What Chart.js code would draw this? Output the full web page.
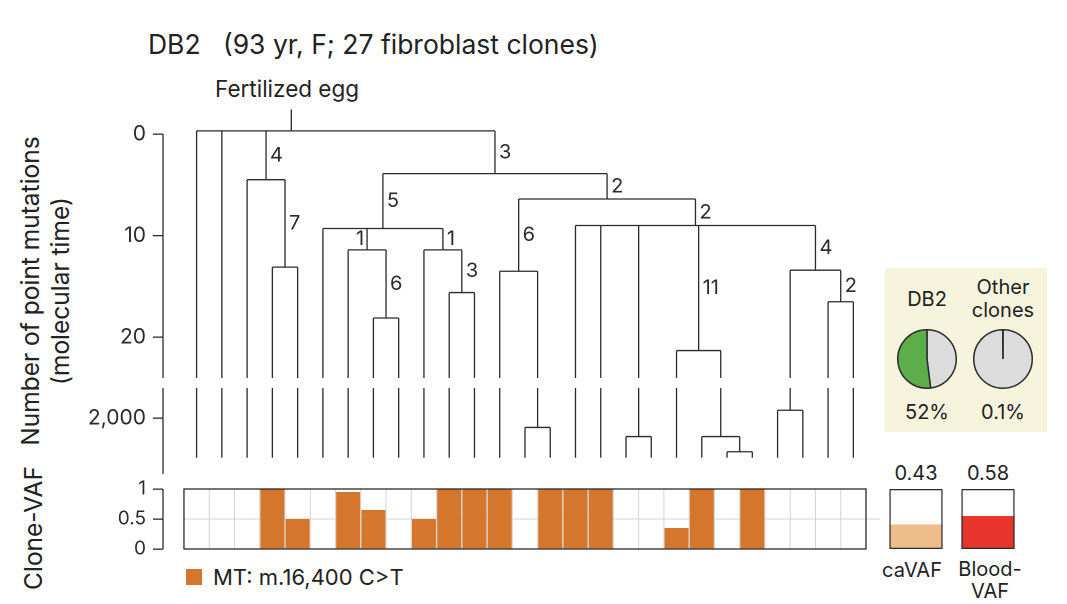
<!DOCTYPE html>
<html>
<head>
<meta charset="utf-8">
<script src="https://cdn.jsdelivr.net/npm/chart.js@4"></script>
<style>
  body { margin: 0; background: #fff; font-family: Inter, sans-serif; color: #222; }
  #wrap { position: relative; width: 1067px; height: 604px; overflow: hidden; }
  canvas, .t, .box { position: absolute; }
  .t { white-space: nowrap; }
</style>
</head>
<body>
<div id="wrap">
  <div class="t" style="left:148px;top:28px;font-size:26.5px;">DB2&nbsp;&nbsp;&nbsp;(93 yr, F; 27 fibroblast clones)</div>
  <div class="t" style="left:215px;top:75px;font-size:22.5px;">Fertilized egg</div>
  <div class="t" style="left:-150px;top:261px;width:390px;height:60px;font-size:24.5px;line-height:30px;text-align:center;transform:rotate(-90deg);">Number of point mutations<br>(molecular time)</div>
  <div class="t" style="left:-37px;top:513px;width:140px;height:30px;font-size:24.5px;text-align:center;transform:rotate(-90deg);">Clone-VAF</div>

  <div class="box" style="left:885px;top:268px;width:162px;height:164px;background:#f7f4dd;"></div>
  <div class="t" style="left:897px;top:287px;font-size:20px;width:60px;text-align:center;">DB2</div>
  <div class="t" style="left:958px;top:276px;font-size:20px;width:90px;text-align:center;line-height:23px;">Other<br>clones</div>
  <div class="t" style="left:897px;top:400px;font-size:20px;width:60px;text-align:center;">52%</div>
  <div class="t" style="left:968px;top:400px;font-size:20px;width:70px;text-align:center;">0.1%</div>

  <div class="t" style="left:886px;top:461px;font-size:20px;width:60px;text-align:center;">0.43</div>
  <div class="t" style="left:958px;top:461px;font-size:20px;width:60px;text-align:center;">0.58</div>
  <div class="t" style="left:872px;top:558px;font-size:20px;width:80px;text-align:center;">caVAF</div>
  <div class="t" style="left:950px;top:558px;font-size:20px;width:80px;text-align:center;line-height:22px;">Blood-<br>VAF</div>

  <div class="box" style="left:186px;top:569px;width:16px;height:16px;background:#d4762c;"></div>
  <div class="t" style="left:213px;top:564px;font-size:22px;">MT: m.16,400 C&gt;T</div>

  <canvas id="up" style="left:0;top:107px;width:870px;height:271px;"></canvas>
  <canvas id="low" style="left:0;top:388px;width:870px;height:86px;"></canvas>
  <canvas id="vaf" style="left:0;top:480px;width:880px;height:78px;"></canvas>
  <canvas id="small" style="left:880px;top:480px;width:144px;height:78px;"></canvas>
  <canvas id="pie1" style="left:895px;top:327px;width:64px;height:64px;"></canvas>
  <canvas id="pie2" style="left:971px;top:327px;width:64px;height:64px;"></canvas>
</div>
<script>
// tree of the 27 clones: internal nodes, their parent, height (mutations, or lower-panel units) and branch label
const nodeName   = ['root','A','A2','B','C','C1','C1b','C2','C2b','D','D1','L1','D2','L2','E','L3','L4','F','L5','G'];
const nodeParent = [null,'root','A','root','B','C','C1','C','C2','B','D','D1','D','D2','D2','E','L3','D2','F','F'];
const nodeHeight = [-0.3, 4.5, 13.1, 3.9, 9.3, 11.4, 18.1, 11.4, 15.6, 6.4, 13.5, 1991, 9.0, 1982, 21.3, 1982, 1967, 13.4, 2008, 16.5];
const nodePanel  = ['up','up','up','up','up','up','up','up','up','up','up','low','up','low','up','low','low','up','low','up'];
const nodeLabel  = ['','4','7','3','5','1','6','1','3','2','6','','2','','11','','','4','','2'];
const labelLeft  = ['C1'];
const leafParent = ['root','root','A','A2','A2','C','C1','C1b','C1b','C2','C2b','C2b','D1','L1','L1',
                    'D2','D2','L2','L2','E','L3','L4','L4','L5','L5','G','G'];
const rootStemTop = -2.4;
const rootStemX = 3.75;

const upTicks = [0, 10, 20];
const upBottom = 24;
const lowTicks = [2000];
const lowTop = 2030, lowBottom = 1945, leafEnd = 1961;

// clone-VAF for m.16,400 C>T
const cloneVAF = [0,0,0,1,0.5,0,0.95,0.65,0,0.5,1,1,1,0,1,1,1,0,0,0.35,1,0,1,0,0,0,0];
const vafTicks = [0, 0.5, 1];
const bulkNames = ['caVAF', 'Blood-VAF'];
const bulkVAF = [0.43, 0.58];
const bulkShown = [0.41, 0.55];

const pieDB2 = [48, 52];
const pieOther = [99.9, 0.1];

const INK = '#2a2a2a';
const FONT = 'Inter, sans-serif';
const AXIS_X = 163, PX_PER_LEAF = 25.26;
const X_MIN = -1.33;
const xMaxFor = w => X_MIN + (w - AXIS_X) / PX_PER_LEAF;

// build nodes
const nodes = {};
nodeName.forEach((n, i) => nodes[n] = { name: n, parent: nodeParent[i], h: nodeHeight[i], panel: nodePanel[i], label: nodeLabel[i], kids: [] });
leafParent.forEach((p, i) => { const n = 'l' + i; nodes[n] = { name: n, parent: p, h: leafEnd, panel: 'low', label: '', kids: [], x: i }; });
Object.values(nodes).forEach(n => { if (n.parent) nodes[n.parent].kids.push(n); });
function posX(n) {
  if (n.x !== undefined) return n.x;
  const xs = n.kids.map(posX);
  n.x = (Math.min(...xs) + Math.max(...xs)) / 2;
  return n.x;
}
posX(nodes.root);

const upSegs = [], lowSegs = [];
Object.values(nodes).forEach(n => {
  if (n.kids.length) {
    const xs = n.kids.map(k => k.x);
    const seg = [{x: Math.min(...xs), y: n.h}, {x: Math.max(...xs), y: n.h}];
    (n.panel === 'up' ? upSegs : lowSegs).push(seg);
  }
  if (!n.parent) {
    upSegs.push([{x: rootStemX, y: rootStemTop}, {x: rootStemX, y: n.h}]);
    return;
  }
  const p = nodes[n.parent];
  if (p.panel === 'up' && n.panel === 'up') upSegs.push([{x: n.x, y: p.h}, {x: n.x, y: n.h}]);
  else if (p.panel === 'up') {
    upSegs.push([{x: n.x, y: p.h}, {x: n.x, y: upBottom}]);
    lowSegs.push([{x: n.x, y: lowTop}, {x: n.x, y: n.h}]);
  } else lowSegs.push([{x: n.x, y: p.h}, {x: n.x, y: n.h}]);
});

function segDatasets(segs) {
  return segs.map(s => ({ data: s, showLine: true, borderColor: INK, borderWidth: 1.3, pointRadius: 0, fill: false }));
}

function yAxis(min, max, ticks, fmt, size) {
  return {
    min: min, max: max,
    afterBuildTicks: s => { s.ticks = ticks.map(v => ({value: v})); },
    afterFit: s => { s.width = AXIS_X; s.paddingTop = 0; s.paddingBottom = 0; },
    border: { display: false },
    grid: { drawOnChartArea: false, tickLength: 10, color: INK, lineWidth: 1.3 },
    ticks: { color: INK, font: { family: FONT, size: size }, padding: 7, callback: fmt }
  };
}

// axis line drawn only over [from,to]
function axisLine(from, to) {
  return {
    id: 'axisLine',
    afterDraw(c) {
      const y = c.scales.y, ctx = c.ctx;
      ctx.save();
      ctx.strokeStyle = INK; ctx.lineWidth = 1.3;
      ctx.beginPath();
      ctx.moveTo(c.chartArea.left, y.getPixelForValue(from));
      ctx.lineTo(c.chartArea.left, y.getPixelForValue(to));
      ctx.stroke();
      ctx.restore();
    }
  };
}

const branchLabels = {
  id: 'branchLabels',
  afterDraw(c) {
    const ctx = c.ctx, xs = c.scales.x, ys = c.scales.y;
    ctx.save();
    ctx.fillStyle = INK; ctx.font = '20px ' + FONT; ctx.textBaseline = 'middle';
    Object.values(nodes).forEach(n => {
      if (!n.label) return;
      const p = nodes[n.parent];
      const yEnd = n.panel === 'up' ? n.h : upBottom;
      const y = ys.getPixelForValue((p.h + yEnd) / 2);
      const x = xs.getPixelForValue(n.x);
      if (labelLeft.includes(n.name)) { ctx.textAlign = 'right'; ctx.fillText(n.label, x - 3, y); }
      else { ctx.textAlign = 'left'; ctx.fillText(n.label, x + 4, y); }
    });
    ctx.restore();
  }
};

const common = {
  responsive: false, animation: false, devicePixelRatio: 2,
  layout: { padding: 0 },
  plugins: { legend: { display: false }, tooltip: { enabled: false } }
};

function sizeCanvas(id) {
  const el = document.getElementById(id);
  el.width = parseInt(el.style.width); el.height = parseInt(el.style.height);
  return el;
}

new Chart(sizeCanvas('up'), {
  type: 'scatter',
  data: { datasets: segDatasets(upSegs) },
  options: Object.assign({}, common, {
    scales: {
      x: { type: 'linear', min: X_MIN, max: xMaxFor(870), display: false },
      y: Object.assign(yAxis(-2.65, upBottom, upTicks, v => String(v), 21), { reverse: true })
    }
  }),
  plugins: [axisLine(0, upBottom), branchLabels]
});

new Chart(sizeCanvas('low'), {
  type: 'scatter',
  data: { datasets: segDatasets(lowSegs) },
  options: Object.assign({}, common, {
    scales: {
      x: { type: 'linear', min: X_MIN, max: xMaxFor(870), display: false },
      y: yAxis(lowBottom, lowTop, lowTicks, v => v.toLocaleString('en-US'), 21)
    }
  }),
  plugins: [axisLine(lowBottom, lowTop)]
});

// grid + frame of the clone-VAF strip
const vafFrame = {
  id: 'vafFrame',
  beforeDatasetsDraw(c) {
    const ctx = c.ctx, xs = c.scales.x, ys = c.scales.y;
    const l = xs.getPixelForValue(-0.5);
    const t = ys.getPixelForValue(1), b = ys.getPixelForValue(0), m = ys.getPixelForValue(0.5);
    ctx.save();
    ctx.strokeStyle = '#d4d4d4'; ctx.lineWidth = 1;
    ctx.beginPath();
    for (let i = 1; i < cloneVAF.length; i++) {
      const x = xs.getPixelForValue(i - 0.5);
      ctx.moveTo(x, t); ctx.lineTo(x, b);
    }
    ctx.moveTo(l, m); ctx.lineTo(c.width, m);
    ctx.stroke();
    ctx.restore();
  },
  afterDatasetsDraw(c) {
    const ctx = c.ctx, xs = c.scales.x, ys = c.scales.y;
    const l = xs.getPixelForValue(-0.5), r = xs.getPixelForValue(cloneVAF.length - 0.5);
    const t = ys.getPixelForValue(1), b = ys.getPixelForValue(0);
    ctx.save();
    ctx.strokeStyle = INK; ctx.lineWidth = 1.3;
    ctx.strokeRect(l, t, r - l, b - t);
    ctx.restore();
  }
};

new Chart(sizeCanvas('vaf'), {
  type: 'bar',
  data: { datasets: [{ data: cloneVAF.map((v, i) => ({x: i, y: v})), backgroundColor: '#d4762c', barPercentage: 0.95, categoryPercentage: 1 }] },
  options: Object.assign({}, common, {
    scales: {
      x: { type: 'linear', min: X_MIN, max: xMaxFor(880), offset: false, display: false },
      y: yAxis(-0.15, 1.15, vafTicks, v => String(v), 19)
    }
  }),
  plugins: [vafFrame, axisLine(0, 1)]
});

new Chart(sizeCanvas('small'), {
  type: 'bar',
  data: {
    labels: bulkNames,
    datasets: [
      { data: bulkShown, backgroundColor: ['#efbd8c', '#e8352d'], barPercentage: 0.74, categoryPercentage: 1, grouped: false, order: 2 },
      { data: bulkNames.map(() => 1), backgroundColor: 'rgba(0,0,0,0)', borderColor: INK, borderWidth: 1.3, borderSkipped: false, barPercentage: 0.74, categoryPercentage: 1, grouped: false, order: 1 }
    ]
  },
  options: Object.assign({}, common, {
    scales: { x: { display: false }, y: { min: -0.15, max: 1.15, display: false } }
  })
});

function pie(id, vals, colors) {
  new Chart(sizeCanvas(id), {
    type: 'pie',
    data: { datasets: [{ data: vals, backgroundColor: colors, borderColor: INK, borderWidth: 1.5 }] },
    options: Object.assign({}, common, { layout: { padding: 2 } })
  });
}
pie('pie1', pieDB2, ['#dcdcdc', '#5cae4a']);
pie('pie2', pieOther, ['#dcdcdc', '#111']);
</script>
</body>
</html>
